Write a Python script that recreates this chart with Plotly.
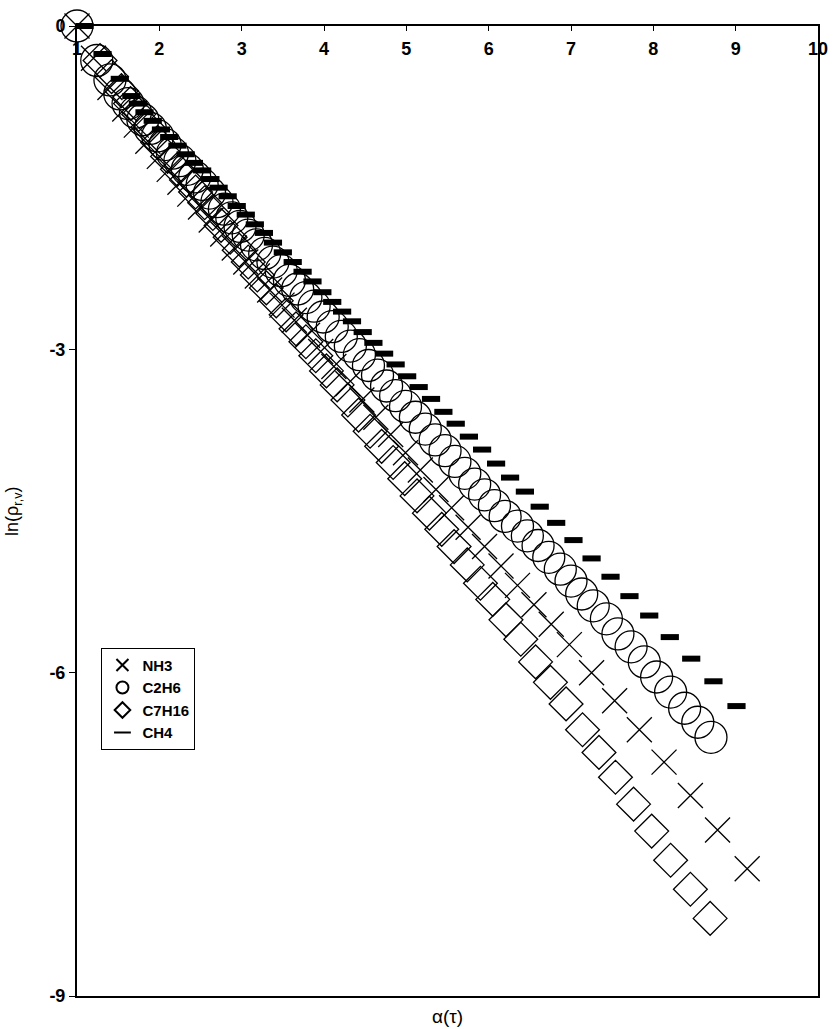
import plotly.graph_objects as go

# ---------------- data ----------------
nh3_x = [1.00, 1.20, 1.40, 1.58, 1.72, 1.86, 2.00, 2.12, 2.25, 2.37, 2.50, 2.63, 2.77, 2.91,
         3.05, 3.19, 3.34, 3.49, 3.64, 3.80, 3.96, 4.12, 4.29, 4.46, 4.63, 4.81, 4.99, 5.17,
         5.36, 5.55, 5.75, 5.95, 6.15, 6.35, 6.55, 6.76, 6.98, 7.25, 7.53, 7.83, 8.13, 8.45,
         8.78, 9.14]
nh3_y = [0.00, -0.30, -0.57, -0.77, -0.92, -1.07, -1.21, -1.33, -1.45, -1.56, -1.68, -1.80,
         -1.93, -2.06, -2.19, -2.32, -2.45, -2.59, -2.73, -2.87, -3.02, -3.16, -3.32, -3.47,
         -3.63, -3.79, -3.96, -4.12, -4.30, -4.47, -4.65, -4.83, -5.01, -5.19, -5.37, -5.55,
         -5.74, -6.00, -6.26, -6.53, -6.83, -7.14, -7.46, -7.82]

c2h6_x = [1.00, 1.24, 1.40, 1.52, 1.62, 1.71, 1.80, 1.89, 1.98, 2.07, 2.16, 2.25, 2.34, 2.43,
          2.52, 2.61, 2.70, 2.79, 2.88, 2.98, 3.08, 3.18, 3.28, 3.38, 3.48, 3.58, 3.68, 3.78,
          3.88, 3.99, 4.10, 4.21, 4.32, 4.43, 4.54, 4.65, 4.76, 4.87, 4.99, 5.11, 5.23, 5.35,
          5.47, 5.59, 5.71, 5.83, 5.95, 6.07, 6.20, 6.35, 6.47, 6.60, 6.73, 6.87, 7.00, 7.13,
          7.27, 7.43, 7.57, 7.73, 7.89, 8.04, 8.21, 8.38, 8.54, 8.70]
c2h6_y = [0.00, -0.32, -0.50, -0.63, -0.72, -0.80, -0.87, -0.95, -1.02, -1.10, -1.18, -1.25,
          -1.33, -1.40, -1.47, -1.55, -1.63, -1.70, -1.78, -1.86, -1.94, -2.03, -2.11, -2.19,
          -2.27, -2.36, -2.44, -2.52, -2.60, -2.70, -2.79, -2.88, -2.97, -3.05, -3.15, -3.24,
          -3.34, -3.43, -3.53, -3.63, -3.74, -3.84, -3.94, -4.04, -4.15, -4.25, -4.35, -4.45,
          -4.55, -4.64, -4.73, -4.82, -4.93, -5.04, -5.15, -5.27, -5.38, -5.50, -5.64, -5.76,
          -5.90, -6.04, -6.18, -6.33, -6.46, -6.60]

c7h16_x = [0.98, 1.28, 1.42, 1.54, 1.65, 1.75, 1.86, 1.98, 2.10, 2.22, 2.33, 2.44, 2.55, 2.65,
           2.75, 2.86, 2.97, 3.08, 3.19, 3.30, 3.42, 3.54, 3.66, 3.78, 3.90, 4.03, 4.16,
           4.29, 4.42, 4.56, 4.70, 4.84, 4.98, 5.13, 5.28, 5.43, 5.58, 5.74, 5.90, 6.05, 6.21,
           6.39, 6.57, 6.75, 6.94, 7.14, 7.34, 7.54, 7.76, 7.98, 8.21, 8.45, 8.69]
c7h16_y = [-0.14, -0.32, -0.47, -0.60, -0.72, -0.82, -0.94, -1.08, -1.21, -1.33, -1.43, -1.54,
           -1.64, -1.74, -1.85, -1.96, -2.08, -2.19, -2.31, -2.43, -2.55, -2.68, -2.81,
           -2.93, -3.06, -3.20, -3.33, -3.47, -3.61, -3.76, -3.90, -4.05, -4.20, -4.36, -4.52,
           -4.67, -4.83, -5.00, -5.17, -5.32, -5.51, -5.69, -5.90, -6.09, -6.29, -6.53, -6.74,
           -6.97, -7.22, -7.47, -7.74, -8.01, -8.28]

ch4_x = [1.09, 1.31, 1.52, 1.66, 1.74, 1.82, 1.92, 2.02, 2.12, 2.22, 2.32, 2.42, 2.52, 2.62,
         2.72, 2.83, 2.94, 3.05, 3.16, 3.27, 3.38, 3.50, 3.62, 3.74, 3.86, 3.98, 4.10, 4.22,
         4.34, 4.47, 4.60, 4.73, 4.87, 5.01, 5.15, 5.30, 5.45, 5.60, 5.76, 5.92, 6.09, 6.26,
         6.44, 6.62, 6.82, 7.03, 7.25, 7.48, 7.71, 7.95, 8.20, 8.46, 8.73, 9.01]
ch4_y = [0.00, -0.26, -0.49, -0.65, -0.72, -0.80, -0.88, -0.96, -1.03, -1.11, -1.19, -1.27,
         -1.34, -1.42, -1.50, -1.58, -1.67, -1.75, -1.84, -1.92, -2.01, -2.10, -2.19, -2.28,
         -2.37, -2.47, -2.56, -2.65, -2.74, -2.84, -2.94, -3.04, -3.14, -3.25, -3.35, -3.46,
         -3.58, -3.69, -3.81, -3.93, -4.06, -4.19, -4.32, -4.46, -4.61, -4.77, -4.94, -5.11,
         -5.29, -5.47, -5.67, -5.87, -6.08, -6.31]

series_names = ["NH3", "C2H6", "C7H16", "CH4"]
x_ticks = [1, 2, 3, 4, 5, 6, 7, 8, 9, 10]
y_ticks = [0, -3, -6, -9]

FONT = "Arial, Liberation Sans, sans-serif"

fig = go.Figure()
fig.add_trace(go.Scatter(x=nh3_x, y=nh3_y, mode="markers", name=series_names[0],
                         cliponaxis=False,
                         marker=dict(symbol="x-thin", size=25, color="black",
                                     line=dict(color="black", width=1.3))))
fig.add_trace(go.Scatter(x=c2h6_x, y=c2h6_y, mode="markers", name=series_names[1],
                         cliponaxis=False,
                         marker=dict(symbol="circle-open", size=32, color="black",
                                     line=dict(color="black", width=1.3))))
fig.add_trace(go.Scatter(x=c7h16_x, y=c7h16_y, mode="markers", name=series_names[2],
                         cliponaxis=False,
                         marker=dict(symbol="diamond-open", size=26, color="black",
                                     line=dict(color="black", width=1.3))))
fig.add_trace(go.Scatter(x=ch4_x, y=ch4_y, mode="markers", name=series_names[3],
                         cliponaxis=False,
                         marker=dict(symbol="line-ew", size=13, color="black",
                                     line=dict(color="black", width=6))))

fig.update_layout(
    width=840, height=1029,
    margin=dict(l=77, r=14, t=26, b=33),
    paper_bgcolor="white", plot_bgcolor="white",
    font=dict(family=FONT, color="black"),
    showlegend=True,
    legend=dict(x=0.033, y=0.359, xanchor="left", yanchor="top",
                bgcolor="white", bordercolor="black", borderwidth=1,
                font=dict(family=FONT, size=15, color="black", weight="bold"),
                itemsizing="constant", traceorder="normal",
                itemwidth=30),
    xaxis=dict(range=[1, 10], side="top", tickmode="array", tickvals=x_ticks,
               ticktext=[str(v) for v in x_ticks],
               ticks="inside", ticklen=5, tickwidth=1, tickcolor="black",
               ticklabelposition="inside", ticklabelstandoff=12, ticklabeloverflow="allow",
               tickfont=dict(family=FONT, size=18, color="black", weight="bold"),
               showline=True, linecolor="black", linewidth=2, mirror=True,
               showgrid=False, zeroline=False),
    yaxis=dict(range=[-9, 0], tickmode="array", tickvals=y_ticks,
               ticktext=[str(v) for v in y_ticks],
               ticks="outside", ticklen=6, tickwidth=1, tickcolor="black",
               tickfont=dict(family=FONT, size=18, color="black", weight="bold"),
               showline=True, linecolor="black", linewidth=2, mirror=True,
               showgrid=False, zeroline=False),
    annotations=[
        dict(text="α(τ)", xref="paper", yref="paper", x=0.5, y=0, yanchor="top",
             xanchor="center", yshift=-8, showarrow=False,
             font=dict(family=FONT, size=19, color="black")),
        dict(text="ln(ρ<sub>r,v</sub>)", xref="paper", yref="paper", x=0, y=0.5,
             xanchor="center", yanchor="middle", xshift=-64, textangle=-90,
             showarrow=False, font=dict(family=FONT, size=18, color="black")),
    ],
)

fig.write_html("out.html")
